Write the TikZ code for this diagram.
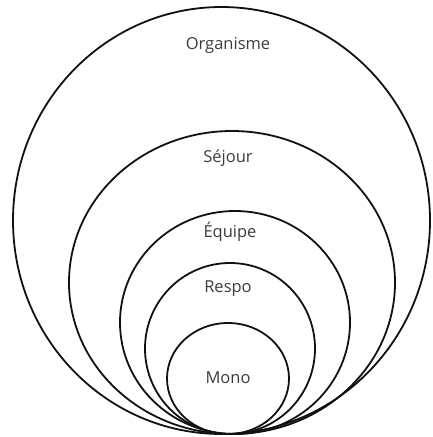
\documentclass[tikz,border=0pt]{standalone}
\usepackage{fontspec}
\setmainfont{Open Sans}
\definecolor{ink}{HTML}{111111}
\definecolor{txt}{HTML}{3C3C3C}
\usetikzlibrary{shapes.geometric, positioning}

\begin{document}
\begin{tikzpicture}[
  x=1pt, y=-1pt,
  ring/.style={ellipse, draw=ink, line width=1.8pt, inner sep=0pt},
  lbl/.style={font=\fontsize{16.5}{18}\selectfont, text=txt, inner sep=1pt},
]
\useasboundingbox (0,0) rectangle (432,437);

% nested rings, all touching at the bottom
\node[ring, minimum width=417pt, minimum height=427pt] (org) at (221.5,220.5) {};
\node[ring, minimum width=326pt, minimum height=303pt] (sej) at (232,282.5) {};
\node[ring, minimum width=230pt, minimum height=223pt] (equ) at (235,322.5) {};
\node[ring, minimum width=170pt, minimum height=171pt] (res) at (230,348.5) {};
\node[ring, minimum width=122pt, minimum height=111pt] (mon) at (228,378.5) {};

% labels
\node[lbl] (lorg) at (228,45) {Organisme};
\node[lbl] (lsej) at (228,158) {Séjour};
\node[lbl] (lequ) at (230,232) {Équipe};
\node[lbl] (lres) at (228,289) {Respo};
\node[lbl] (lmon) at (228,378) {Mono};

\end{tikzpicture}
\end{document}
